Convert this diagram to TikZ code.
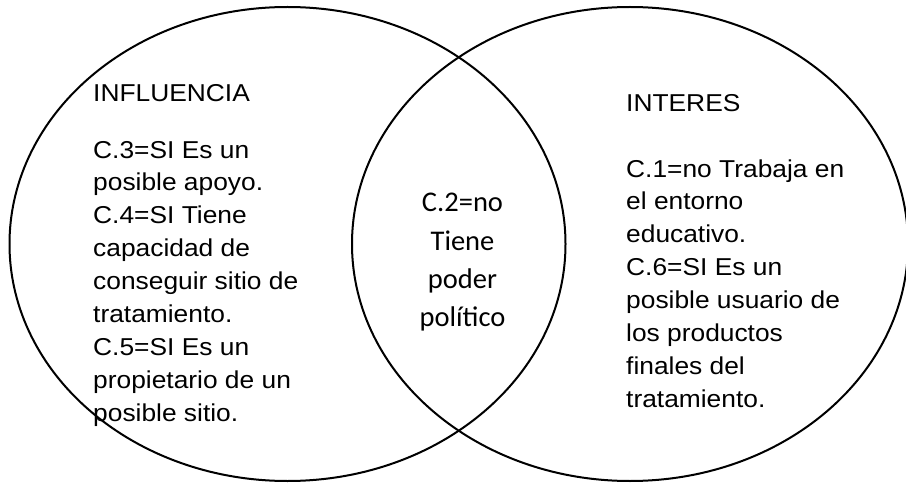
\documentclass[tikz,border=0pt]{standalone}
\usepackage{fontspec}
\usetikzlibrary{shapes.geometric}
\newfontfamily\arialx[FakeStretch=1.08]{Liberation Sans}
\newfontfamily\calib{Carlito}
\tikzset{
  venn/.style={ellipse, draw=black, line width=2pt, minimum width=556pt, minimum height=474pt, inner sep=0pt},
  sidehead/.style={anchor=base west, inner sep=0pt, font=\arialx\fontsize{24.4}{32.9}\selectfont},
  sidetext/.style={anchor=north west, inner sep=0pt, align=left, font=\arialx\fontsize{24.4}{32.9}\selectfont},
  midtext/.style={anchor=north, inner sep=0pt, align=center, font=\calib\fontsize{28.5}{38.3}\selectfont}
}
\begin{document}
\begin{tikzpicture}[x=1pt,y=1pt]
\useasboundingbox (0,0) rectangle (906,483);
\node[venn] (infl) at (287.5,239) {};
\node[venn] (inte) at (630,239) {};
\node[sidehead] (h1) at (93,381.3) {INFLUENCIA};
\node[sidetext] (b1) at (93,342.2) {C.3=SI Es un\\posible apoyo.\\C.4=SI Tiene\\capacidad de\\conseguir sitio de\\tratamiento.\\C.5=SI Es un\\propietario de un\\posible sitio.};
\node[sidehead] (h2) at (626,371.3) {INTERES};
\node[sidetext] (b2) at (626,323.8) {C.1=no Trabaja en\\el entorno\\educativo.\\C.6=SI Es un\\posible usuario de\\los productos\\finales del\\tratamiento.};
\node[midtext] (mid) at (462.5,289.7) {C.2=no\\Tiene\\poder\\político};
\end{tikzpicture}
\end{document}
